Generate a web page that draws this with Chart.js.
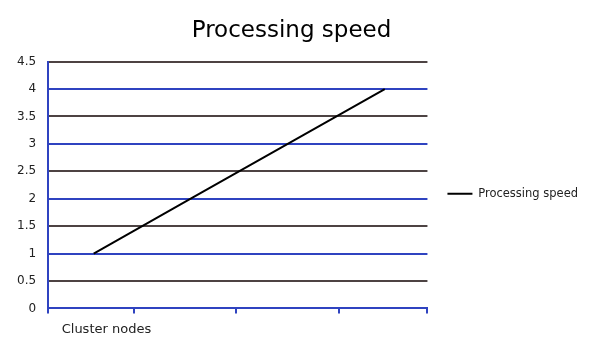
<!DOCTYPE html>
<html>
<head>
<meta charset="utf-8">
<script src="https://cdn.jsdelivr.net/npm/chart.js@4/dist/chart.umd.min.js"></script>
<style>
html,body{margin:0;padding:0;background:#fff;}
#wrap{width:589px;height:358px;}
</style>
</head>
<body>
<div id="wrap"><canvas id="c" width="589" height="358"></canvas></div>
<script>
const chartTitle = "Processing speed";
const seriesName = "Processing speed";
const xAxisLabel = "Cluster nodes";
const nodePositions = [1, 2, 3, 4];
const speedValues = [1, 2, 3, 4];
const xTickValues = [0.53, 1.42, 2.47, 3.53, 4.44];
const yMin = 0, yMax = 4.5, yStep = 0.5;

const FONT = "'DejaVu Sans', sans-serif";
const BLUE = "#2f43c0";
const GRAY = "#4d4343";

// legend: keep a wide gap before the line sample but a narrow one after the text
const legendFit = {
  id: 'legendFit',
  beforeLayout(chart) {
    const lg = chart.legend;
    if (lg && !lg._wrapped) {
      const f = lg.fit;
      lg.fit = function () { this.maxWidth = 1000; f.call(this); this.width -= 10; };
      lg._wrapped = true;
    }
  }
};

new Chart(document.getElementById('c'), {
  type: 'line',
  data: {
    datasets: [{
      label: seriesName,
      data: nodePositions.map((x, i) => ({x: x, y: speedValues[i]})),
      borderColor: '#000',
      backgroundColor: '#000',
      borderWidth: 2,
      pointRadius: 0,
      tension: 0
    }]
  },
  plugins: [legendFit],
  options: {
    responsive: false,
    animation: false,
    layout: {padding: {left: 5, right: 11, top: 0, bottom: 13}},
    plugins: {
      title: {
        display: true,
        text: chartTitle,
        color: '#000',
        font: {family: FONT, size: 23, weight: 'normal'},
        padding: {top: 17, bottom: 17}
      },
      legend: {
        position: 'right',
        title: {display: true, text: '', font: {family: FONT, size: 12}, padding: {top: 14, bottom: 14}},
        labels: {
          boxWidth: 25,
          boxHeight: 0,
          color: '#222',
          font: {family: FONT, size: 11.5},
          padding: 20
        }
      },
      tooltip: {enabled: false}
    },
    scales: {
      x: {
        type: 'linear',
        min: xTickValues[0],
        max: xTickValues[xTickValues.length - 1],
        afterBuildTicks: (scale) => { scale.ticks = xTickValues.map(v => ({value: v})); },
        border: {color: BLUE, width: 2},
        grid: {drawOnChartArea: false, color: BLUE, lineWidth: 2, tickLength: 5},
        ticks: {
          autoSkip: false,
          maxRotation: 0,
          color: '#222',
          font: {family: FONT, size: 13},
          labelOffset: -28,
          padding: 8,
          callback: (v, i) => i === 1 ? xAxisLabel : ''
        }
      },
      y: {
        min: yMin,
        max: yMax,
        ticks: {
          stepSize: yStep,
          color: '#222',
          font: {family: FONT, size: 12},
          padding: 12,
          callback: (v) => String(v)
        },
        border: {color: BLUE, width: 2},
        grid: {
          drawTicks: false,
          lineWidth: 2,
          color: (ctx) => (ctx.tick && Number.isInteger(ctx.tick.value)) ? BLUE : GRAY
        }
      }
    }
  }
});
</script>
</body>
</html>
